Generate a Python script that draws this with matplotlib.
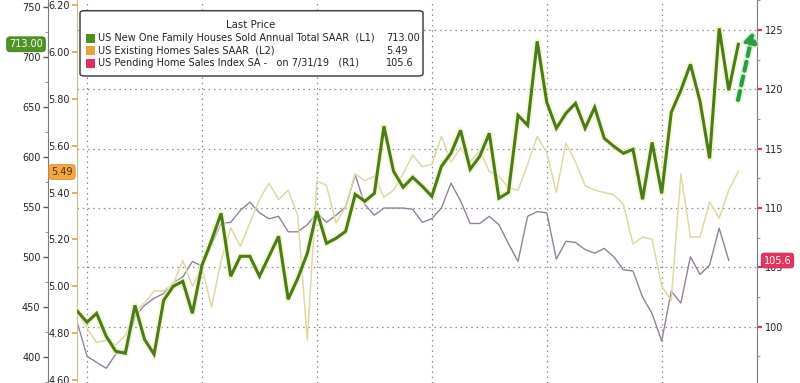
import numpy as np
import pandas as pd
import matplotlib
matplotlib.use('Agg')
import matplotlib.pyplot as plt
from matplotlib.patches import FancyBboxPatch, Rectangle
from matplotlib.ticker import MultipleLocator, FixedLocator, FormatStrFormatter
import matplotlib.patheffects as pe

# ---------------- data ----------------
months = pd.period_range('2013-11', '2019-08', freq='M')

new_home_sales = [446, 435, 444, 421, 406, 404, 452, 418, 403, 457,
                  471, 476, 444, 492, 517, 544, 481, 501, 501, 481,
                  501, 521, 458, 479, 504, 546, 514, 519, 526, 563,
                  556, 564, 631, 586, 570, 580, 571, 561, 591, 604,
                  627, 588, 601, 624, 559, 565, 642, 632, 716, 655,
                  629, 644, 654, 629, 650, 619, 611, 604, 608, 558,
                  615, 564, 645, 667, 693, 656, 599, 729, 667, 713]

existing_home_sales = [4.89, 4.82, 4.76, 4.77, 4.75, 4.79, 4.89, 4.93, 4.98, 4.98,
                       5.01, 5.11, 5.00, 5.08, 4.91, 5.11, 5.25, 5.17, 5.27, 5.37,
                       5.44, 5.37, 5.41, 5.30, 4.77, 5.45, 5.43, 5.27, 5.34, 5.48,
                       5.45, 5.47, 5.38, 5.41, 5.48, 5.56, 5.51, 5.52, 5.64, 5.53,
                       5.59, 5.53, 5.58, 5.49, 5.47, 5.42, 5.41, 5.52, 5.64, 5.57,
                       5.40, 5.61, 5.53, 5.43, 5.41, 5.40, 5.39, 5.35, 5.18, 5.21,
                       5.20, 5.00, 4.94, 5.48, 5.21, 5.21, 5.36, 5.29, 5.41, 5.49]

pending_home_sales = [100.3, 97.5, 97.0, 96.5, 97.7, 98.0, 100.9, 101.8, 102.4, 102.8,
                      103.7, 104.2, 105.5, 105.1, 106.9, 108.7, 108.8, 109.8, 110.5, 109.6,
                      109.1, 109.3, 108.0, 108.0, 108.6, 109.6, 108.8, 109.4, 110.1, 112.8,
                      110.3, 109.4, 110.0, 110.0, 110.0, 109.9, 108.8, 109.1, 110.0, 112.1,
                      110.6, 108.7, 108.7, 109.3, 108.6, 107.0, 105.5, 109.3, 109.7, 109.6,
                      105.7, 107.2, 107.1, 106.5, 106.2, 106.6, 105.9, 104.8, 104.7, 102.5,
                      101.1, 98.8, 103.0, 102.0, 105.9, 104.4, 105.2, 108.3, 105.6]

legend_labels = ["US New One Family Houses Sold Annual Total SAAR  (L1)",
                 "US Existing Homes Sales SAAR  (L2)",
                 "US Pending Home Sales Index SA -   on 7/31/19   (R1)"]
legend_values = ["713.00", "5.49", "105.6"]
legend_colors = ["#4e8c1e", "#eba23a", "#e03060"]

# ---------------- figure ----------------
W, H = 800, 383
fig = plt.figure(figsize=(W / 100, H / 100), dpi=100)
plt.rcParams['font.family'] = ['DejaVu Sans']
FS = 7
L, R = 77, 757
rect = [L / W, 0, (R - L) / W, 1]

x = np.arange(len(months))
x_pend = np.arange(len(pending_home_sales))

ax_r = fig.add_axes(rect)      # R1 (pending) base axis, carries grid
ax_l2 = ax_r.twinx()           # L2 existing
ax_l1 = ax_r.twinx()           # L1 new homes (on top)

xlim = (-0.05, 70.95)
for a in (ax_r, ax_l2, ax_l1):
    a.set_xlim(*xlim)
    for s in a.spines.values():
        s.set_visible(False)
    a.tick_params(axis='x', which='both', bottom=False, top=False,
                  labelbottom=False, labeltop=False)

# limits
ax_l1.set_ylim(374.3, 757.3)
ax_l2.set_ylim(4.5874, 6.2213)
ax_r.set_ylim(95.26, 127.53)

# lines
ax_r.plot(x_pend, pending_home_sales, color='#93809a', lw=1.0, zorder=3)
ax_l2.plot(x, existing_home_sales, color='#dcd9a4', lw=1.1, zorder=3)
ax_l1.plot(x, new_home_sales, color='#eef5b8', lw=5.0, alpha=0.55,
           solid_joinstyle='round', zorder=2)
ax_l1.plot(x, new_home_sales, color='#4d7a1c', lw=2.2,
           solid_joinstyle='miter', zorder=3)

# grid on R1 axis
dec_idx = [i for i, m in enumerate(months) if m.month == 12]
ax_r.xaxis.set_major_locator(FixedLocator(dec_idx))
ax_r.yaxis.set_major_locator(MultipleLocator(5))
ax_r.yaxis.set_minor_locator(MultipleLocator(2.5))
ax_r.grid(True, axis='both', which='major', color='#8a8a8a',
          linestyle=(0, (1.2, 3.0)), lw=0.9)

# R1 axis on right
ax_r.yaxis.tick_right()
ax_r.spines['right'].set_visible(True)
ax_r.spines['right'].set_color('#7a7a7a')
ax_r.tick_params(axis='y', which='major', direction='out', length=3.5, width=1.6,
                 color='#d03a5a', labelsize=FS, labelcolor='#222', pad=2)
ax_r.tick_params(axis='y', which='minor', direction='out', length=2.5, width=0.8,
                 color='#999999')
ax_r.yaxis.set_major_formatter(FormatStrFormatter('%d'))

# L2 axis on left (spine at plot edge)
ax_l2.yaxis.tick_left()
ax_l2.yaxis.set_label_position('left')
ax_l2.spines['left'].set_visible(True)
ax_l2.spines['left'].set_color('#c8c090')
ax_l2.yaxis.set_major_locator(MultipleLocator(0.2))
ax_l2.yaxis.set_major_formatter(FormatStrFormatter('%.2f'))
ax_l2.tick_params(axis='y', which='major', direction='out', length=3.5, width=1.2,
                  color='#e0a040', labelsize=FS, labelcolor='#222', pad=1.5)

# L1 axis further left
ax_l1.yaxis.tick_left()
ax_l1.yaxis.set_label_position('left')
ax_l1.spines['left'].set_visible(True)
ax_l1.spines['left'].set_position(('axes', -(L - 47.5) / (R - L)))
ax_l1.spines['left'].set_color('#7a7a7a')
ax_l1.yaxis.set_major_locator(MultipleLocator(50))
ax_l1.yaxis.set_minor_locator(MultipleLocator(25))
ax_l1.yaxis.set_major_formatter(FormatStrFormatter('%d'))
ax_l1.tick_params(axis='y', which='major', direction='out', length=3.5, width=1.0,
                  color='#555555', labelsize=FS, labelcolor='#222', pad=1.5)
ax_l1.tick_params(axis='y', which='minor', direction='out', length=2, width=0.8,
                  color='#999999')

# ---------------- legend (manual) ----------------
def fx(px):
    return px / W

def fy(py):
    return 1 - py / H

box = FancyBboxPatch((fx(80), fy(76)), fx(423) - fx(80), fy(10.7) - fy(76),
                     boxstyle="round,pad=0,rounding_size=0.006",
                     transform=fig.transFigure, facecolor='white',
                     edgecolor='#444444', lw=1.1, zorder=20)
fig.patches.append(box)
fig.text(fx(251), fy(25), "Last Price", ha='center', va='center',
         fontsize=FS + 0.3, color='#222', zorder=21)
row_y = [38, 50.7, 63.3]
for lab, val, col, ry in zip(legend_labels, legend_values, legend_colors, row_y):
    sq = Rectangle((fx(85.5), fy(ry + 4.5)), fx(9) - fx(0), fy(0) - fy(9),
                   transform=fig.transFigure, facecolor=col, edgecolor='none',
                   zorder=21)
    fig.patches.append(sq)
    fig.text(fx(98), fy(ry), lab, ha='left', va='center', fontsize=FS,
             color='#222', zorder=21)
    fig.text(fx(386), fy(ry), val, ha='left', va='center', fontsize=FS,
             color='#222', zorder=21)

# ---------------- last value tags ----------------
tag_kw = dict(ha='center', va='center', fontsize=FS, zorder=30)
fig.text(fx(26), fy(44.3), f"{new_home_sales[-1]:.2f}", color='white',
         bbox=dict(boxstyle='round,pad=0.25,rounding_size=0.35', fc='#4e9424',
                   ec='#3d7a1a', lw=0.6), **tag_kw)
fig.text(fx(62), fy(172), f"{existing_home_sales[-1]:.2f}", color='#5a3000',
         bbox=dict(boxstyle='round,pad=0.25,rounding_size=0.35', fc='#f0a844',
                   ec='#e09030', lw=0.6), **tag_kw)
fig.text(fx(777.5), fy(260.5), f"{pending_home_sales[-1]:.1f}", color='white',
         bbox=dict(boxstyle='round,pad=0.25,rounding_size=0.35', fc='#e2345e',
                   ec='#c82850', lw=0.6), **tag_kw)

# ---------------- dashed arrow ----------------
ax_l1.annotate('', xy=(fx(753), fy(32)), xytext=(fx(738), fy(100)),
               xycoords='figure fraction', textcoords='figure fraction',
               arrowprops=dict(arrowstyle='-|>,head_length=0.55,head_width=0.35',
                               color='#2f9a45', lw=3.0,
                               linestyle=(0, (2.2, 1.4)),
                               shrinkA=0, shrinkB=0,
                               path_effects=[pe.Stroke(linewidth=5.5,
                                                       foreground='#cdeec8',
                                                       alpha=0.6),
                                             pe.Normal()]),
               zorder=25)

fig.savefig('out.png', dpi=100)
